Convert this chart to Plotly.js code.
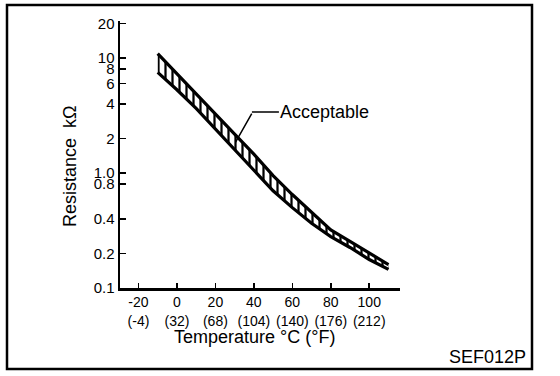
<!DOCTYPE html>
<html>
<head>
<meta charset="utf-8">
<script src="https://cdn.plot.ly/plotly-3.0.1.min.js"></script>
<style>html,body{margin:0;padding:0;background:#fff;}#chart{width:560px;height:376px;}</style>
</head>
<body>
<div id="chart"></div>
<script>
// Data
var tempC = [-10, 0, 10, 20, 30, 40, 50, 60, 70, 80, 90, 100, 110];
var upperKOhm = [10.9, 7.33, 4.91, 3.29, 2.18, 1.46, 0.95, 0.65, 0.46, 0.32, 0.254, 0.20, 0.16];
var lowerKOhm = [7.5, 5.3, 3.65, 2.42, 1.6, 1.04, 0.70, 0.50, 0.365, 0.28, 0.225, 0.177, 0.145];

var xTickVals = [-20, 0, 20, 40, 60, 80, 100];
var xTickText = ['-20<br>(-4)', '0<br>(32)', '20<br>(68)', '40<br>(104)', '60<br>(140)', '80<br>(176)', '100<br>(212)'];
var yTickVals = [0.1, 0.2, 0.4, 0.8, 1.0, 2, 4, 6, 8, 10, 20];
var yTickText = ['0.1', '0.2', '0.4', '0.8', '1.0', '2', '4', '6', '8', '10', '20'];

var W = 560, H = 376;
var mL = 120, mR = 160, mT = 21, mB = 88;
var pw = W - mL - mR, ph = H - mT - mB;
function px2paperX(px){ return (px - mL) / pw; }
function px2paperY(py){ return (H - mB - py) / ph; }

var font = 'Liberation Sans, Arial, sans-serif';

var traces = [
  {x: tempC, y: upperKOhm, mode: 'lines', line: {color: 'black', width: 3.2}, showlegend: false, hoverinfo: 'skip'},
  {x: tempC, y: lowerKOhm, mode: 'lines', line: {color: 'black', width: 3.2}, showlegend: false, hoverinfo: 'skip',
   fill: 'tonexty', fillcolor: 'white',
   fillpattern: {shape: '|', size: 7, solidity: 0.32, fgcolor: 'black', bgcolor: 'white', fillmode: 'replace'}}
];

var layout = {
  width: W, height: H,
  margin: {l: mL, r: mR, t: mT, b: mB, pad: 0},
  paper_bgcolor: 'white', plot_bgcolor: 'white',
  font: {family: font, size: 15, color: 'black'},
  xaxis: {
    range: [-29.6, 116], tickvals: xTickVals, ticktext: xTickText,
    ticks: 'inside', ticklen: 5, tickwidth: 1.5, tickcolor: 'black',
    showline: true, linecolor: 'black', linewidth: 2.5, showgrid: false, zeroline: false,
    tickfont: {family: font, size: 14, color: 'black'}
  },
  yaxis: {
    type: 'log', range: [-1, 1.322], tickvals: yTickVals, ticktext: yTickText,
    ticks: 'inside', ticklen: 6, tickwidth: 1.5, tickcolor: 'black',
    showline: true, linecolor: 'black', linewidth: 2.5, showgrid: false, zeroline: false,
    tickfont: {family: font, size: 15, color: 'black'}
  },
  shapes: [
    {type: 'rect', xref: 'paper', yref: 'paper',
     x0: px2paperX(7), x1: px2paperX(532), y0: px2paperY(369), y1: px2paperY(5),
     line: {color: 'black', width: 2.5}, fillcolor: 'rgba(0,0,0,0)', layer: 'below'}
  ],
  annotations: [
    {x: 39, y: Math.log10(3.39), xref: 'x', yref: 'y', text: 'Acceptable', showarrow: true, arrowhead: 0,
     arrowwidth: 1.5, arrowcolor: 'black', ax: 27, ay: 0, xanchor: 'left', yanchor: 'middle',
     font: {family: font, size: 18, color: 'black'}, borderpad: 0},
    {x: 30.5, y: Math.log10(1.86), xref: 'x', yref: 'y', text: '', showarrow: true, arrowhead: 0,
     arrowwidth: 1.5, arrowcolor: 'black', ax: 17, ay: -30},
    {x: px2paperX(254), y: px2paperY(337), xref: 'paper', yref: 'paper', text: 'Temperature °C (°F)',
     showarrow: false, xanchor: 'center', yanchor: 'middle',
     font: {family: font, size: 18, color: 'black'}},
    {x: px2paperX(70), y: px2paperY(166), xref: 'paper', yref: 'paper', text: 'Resistance  kΩ',
     showarrow: false, textangle: -90, xanchor: 'center', yanchor: 'middle',
     font: {family: font, size: 18, color: 'black'}},
    {x: px2paperX(528), y: px2paperY(357), xref: 'paper', yref: 'paper', text: 'SEF012P',
     showarrow: false, xanchor: 'right', yanchor: 'middle',
     font: {family: font, size: 18, color: 'black'}}
  ]
};

Plotly.newPlot('chart', traces, layout, {staticPlot: true, displayModeBar: false});
</script>
</body>
</html>
